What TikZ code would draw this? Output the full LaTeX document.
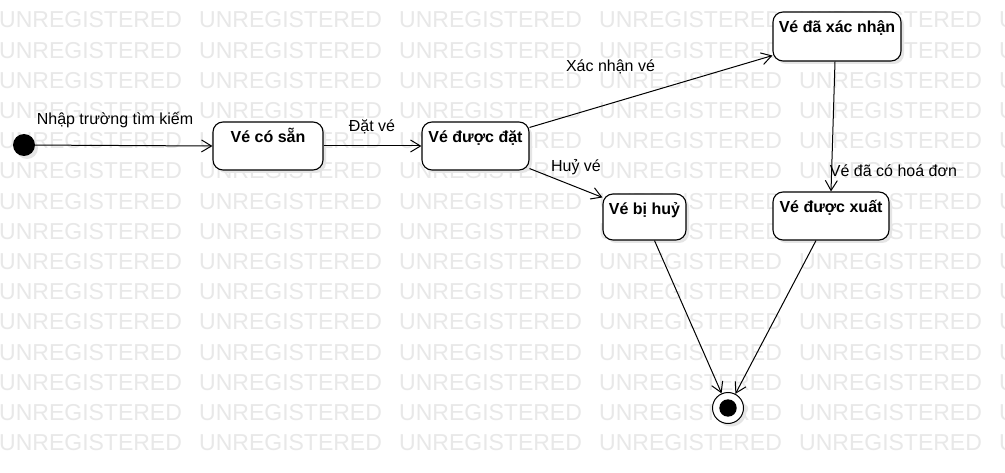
\documentclass[tikz,border=0pt]{standalone}
\usepackage{fontspec}
\setmainfont{Liberation Sans}
\usetikzlibrary{arrows.meta,shadows}
\begin{document}
\begin{tikzpicture}[x=1pt,y=-1pt,
  every node/.style={font=\fontsize{16}{19}\selectfont},
  wm/.style={anchor=base west, inner sep=0pt, text=black!9, font=\fontsize{23}{23}\selectfont},
  shad/.style={drop shadow={shadow xshift=3pt, shadow yshift=-3pt, fill=black!10, opacity=1}},
  statebox/.style={draw, line width=1.1pt, rounded corners=10pt, fill=white, inner xsep=0pt, inner ysep=0pt,
    text height=21pt, font=\fontsize{16}{19}\selectfont\bfseries, shad},
  lbl/.style={anchor=base, inner sep=0pt},
  arr/.style={line width=1pt, -{Straight Barb[length=10pt,width=12pt,line width=1pt]}}
]
\useasboundingbox (0,0) rectangle (1005,473);
\fill[white] (0,0) rectangle (1005,473);
% watermark
\foreach \r in {0,...,14}{
  \foreach \c in {0,...,5}{
    \node[wm] (wm-\r-\c) at ({-1+200*\c},{28+30.2*\r}) {UNREGISTERED};
  }
}
% states
\node[circle, fill=black, minimum size=22pt, inner sep=0pt, shad] (init) at (24,145) {};
\node[statebox, minimum width=110pt, text depth=27pt] (cosan) at (268,146) {Vé có sẵn};
\node[statebox, minimum width=107pt, text depth=27pt] (dat) at (475.5,146) {Vé được đặt};
\node[statebox, minimum width=83pt, text depth=25pt] (huy) at (644.5,217) {Vé bị huỷ};
\node[statebox, minimum width=128pt, text depth=28pt] (xacnhan) at (837,36.5) {Vé đã xác nhận};
\node[statebox, minimum width=116pt, text depth=27pt] (xuat) at (831,216) {Vé được xuất};
\node[circle, draw, line width=1pt, fill=white, minimum size=31pt, inner sep=0pt, shad] (final) at (728,408) {};
\fill[black] (final.center) circle (8.7);
% connectors
\draw[arr] (init) -- (cosan.west);
\draw[arr] (cosan.east) -- (dat.west);
\draw[arr] ([yshift=-6pt]dat.north east) -- ([yshift=6pt]xacnhan.south west);
\draw[arr] ([yshift=2pt]dat.south east) -- ([yshift=-4pt]huy.north west);
\draw[arr] ([xshift=-2pt]xacnhan.south) -- (xuat.north);
\draw[arr] ([xshift=10pt]huy.south) -- (final);
\draw[arr] ([xshift=-15pt]xuat.south) -- (final);
% labels
\node[lbl] (l1) at (115,125) {Nhập trường tìm kiếm};
\node[lbl] (l2) at (372,132) {Đặt vé};
\node[lbl] (l3) at (610.5,72) {Xác nhận vé};
\node[lbl] (l4) at (576,172) {Huỷ vé};
\node[lbl] (l5) at (893.5,177) {Vé đã có hoá đơn};
\end{tikzpicture}
\end{document}
